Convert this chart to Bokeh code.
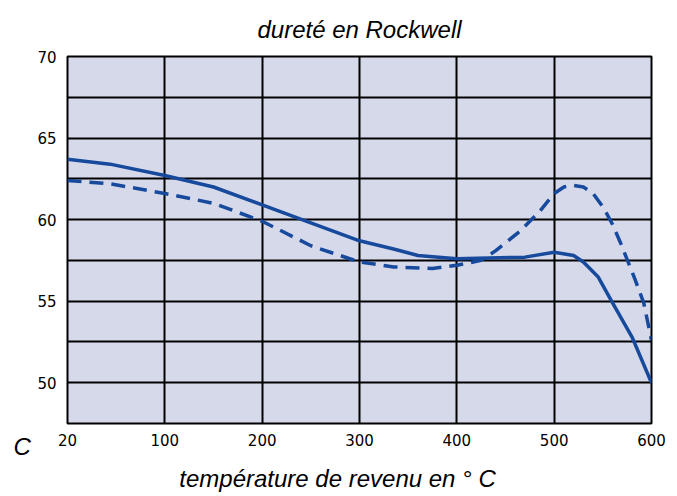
import numpy as np
from bokeh.plotting import figure
from bokeh.models import FixedTicker, Label, Range1d
from bokeh.embed import file_html
from bokeh.resources import INLINE

# x-axis tick labels (equally spaced; first interval is 20..100)
x_ticks = [20, 100, 200, 300, 400, 500, 600]
y_ticks = [50, 55, 60, 65, 70]

# solid curve (temperature °C, hardness HRC)
solid_t = [20, 55, 100, 150, 200, 250, 300, 335, 360, 400, 470, 500, 520, 530, 545, 560, 580, 600]
solid_v = [63.7, 63.4, 62.7, 62.0, 60.9, 59.8, 58.7, 58.2, 57.8, 57.6, 57.7, 58.0, 57.8, 57.4, 56.5, 54.9, 52.8, 50.0]

# dashed curve
dash_t = [20, 55, 100, 150, 200, 250, 300, 335, 375, 400, 425, 440, 465, 485, 500, 510, 520, 530, 540, 551, 560, 568, 582, 592, 600]
dash_v = [62.4, 62.2, 61.6, 61.0, 59.9, 58.4, 57.4, 57.1, 57.0, 57.2, 57.5, 58.1, 59.3, 60.5, 61.6, 62.0, 62.1, 62.0, 61.6, 60.7, 59.7, 58.6, 56.5, 54.9, 52.6]


def to_pos(t):
    t = np.asarray(t, dtype=float)
    return np.where(t < 100, (t - 20) * 100.0 / 80.0, t)


tick_pos = [float(v) for v in to_pos(x_ticks)]
font = "Liberation Sans"

p = figure(width=677, height=496, output_backend="svg", toolbar_location=None,
           x_range=Range1d(0, 600), y_range=Range1d(47.5, 70),
           min_border_left=67, min_border_right=26, min_border_top=55, min_border_bottom=73)
p.background_fill_color = "#d6d9ea"
p.border_fill_color = "white"
p.outline_line_color = "black"
p.outline_line_width = 2

p.title.text = "dureté en Rockwell"
p.title.text_font = font
p.title.text_font_style = "italic"
p.title.text_font_size = "24px"
p.title.text_color = "black"
p.title.align = "center"
p.title.offset = -21
p.title.standoff = 27

p.xaxis.ticker = FixedTicker(ticks=tick_pos)
p.xaxis.major_label_overrides = {tick_pos[i]: str(x_ticks[i]) for i in range(len(x_ticks))}
p.yaxis.ticker = FixedTicker(ticks=y_ticks)
for ax in (p.xaxis[0], p.yaxis[0]):
    ax.axis_line_color = None
    ax.major_tick_line_color = None
    ax.minor_tick_line_color = None
    ax.major_tick_out = 0
    ax.major_tick_in = 0
    ax.major_label_text_font = "DejaVu Sans"
    ax.major_label_text_font_size = "15px"
    ax.major_label_text_color = "black"
p.xaxis.major_label_standoff = 10
p.yaxis.major_label_standoff = 11

p.xgrid.ticker = FixedTicker(ticks=[100, 200, 300, 400, 500])
p.ygrid.ticker = FixedTicker(ticks=list(np.arange(50, 70, 2.5)))
p.xgrid.grid_line_color = "black"
p.ygrid.grid_line_color = "black"
p.xgrid.grid_line_width = 2
p.ygrid.grid_line_width = 2

blue = "#174a9c"
p.line(to_pos(solid_t), solid_v, line_color=blue, line_width=3.5)
p.line(to_pos(dash_t), dash_v, line_color=blue, line_width=3.5, line_dash="14 8")

p.add_layout(Label(x=270, y=-3, x_units="screen", y_units="screen",
                   text="température de revenu en ° C", text_font=font,
                   text_font_style="italic", text_font_size="24px",
                   text_align="center", text_baseline="alphabetic", text_color="black"), "below")
p.add_layout(Label(x=-4, y=-23, x_units="screen", y_units="screen", text="C",
                   text_font=font, text_font_style="italic", text_font_size="24px",
                   text_align="left", text_baseline="alphabetic", text_color="black"), "left")

open("out.html", "w").write(file_html(p, INLINE))
